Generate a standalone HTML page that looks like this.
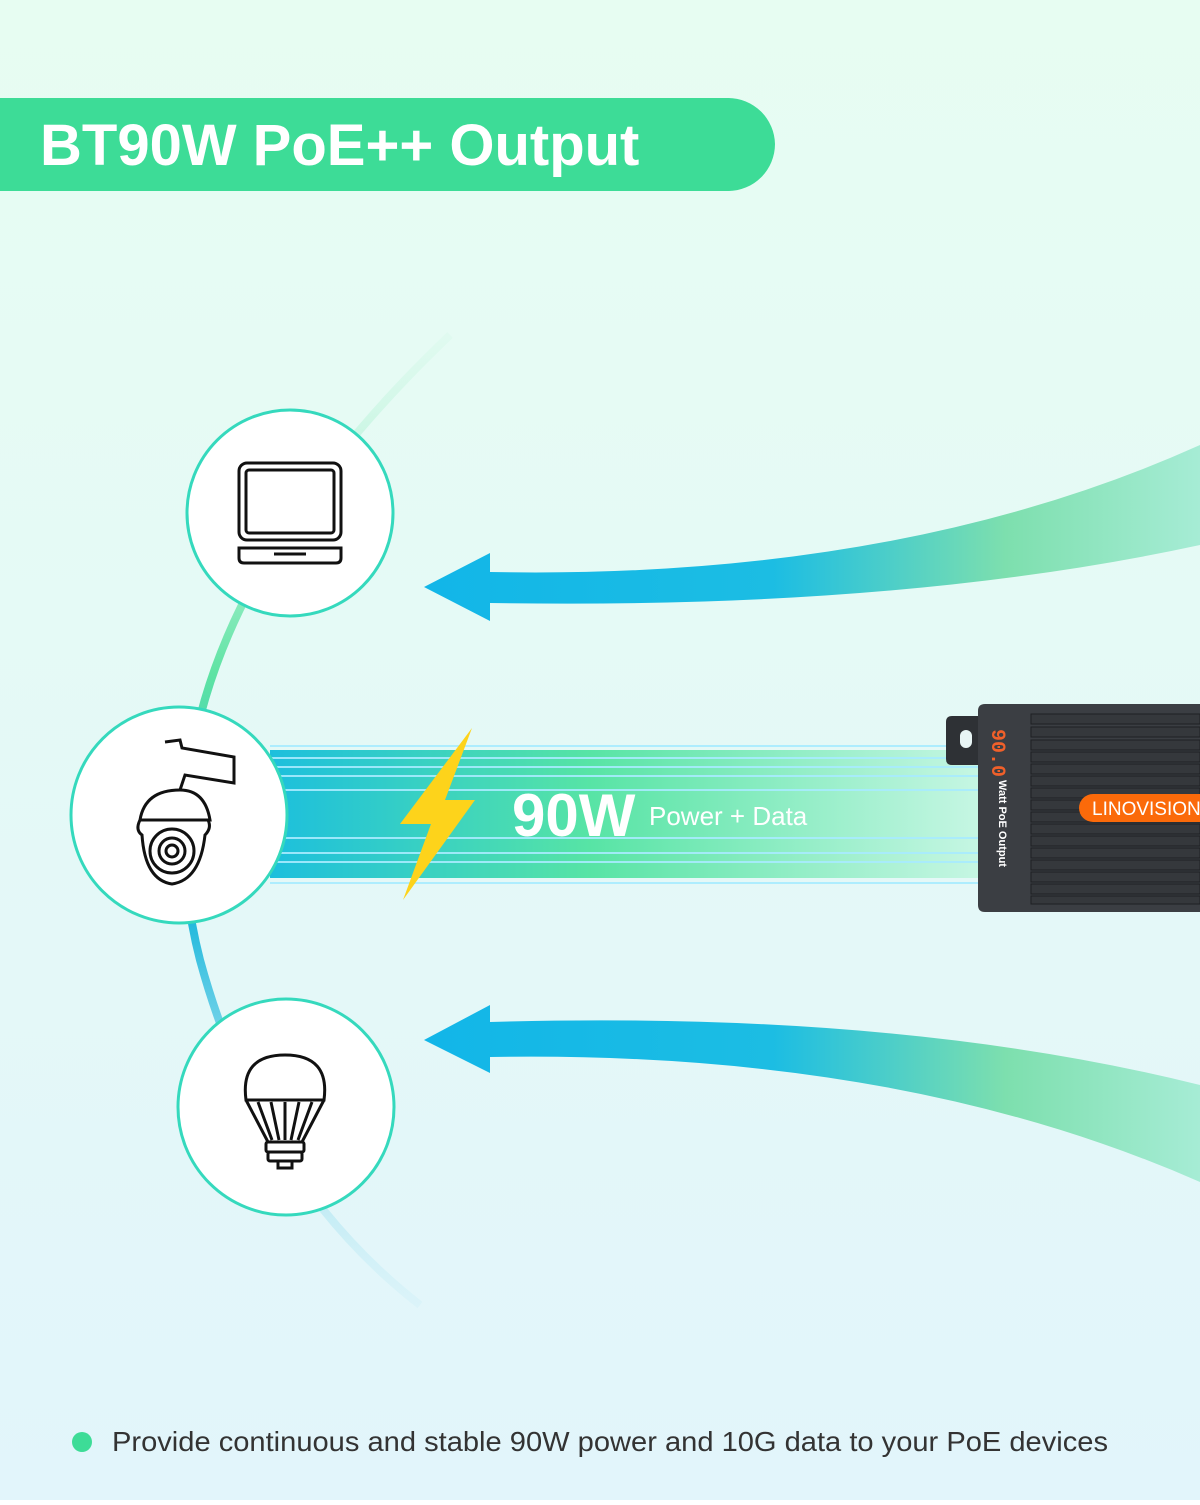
<!DOCTYPE html>
<html><head><meta charset="utf-8"><style>
body{margin:0;width:1200px;height:1500px;overflow:hidden;font-family:"Liberation Sans",sans-serif}
</style></head><body>
<svg width="1200" height="1500" viewBox="0 0 1200 1500" xmlns="http://www.w3.org/2000/svg">
<defs>
<linearGradient id="bg" x1="0" y1="0" x2="0" y2="1"><stop offset="0" stop-color="#e7fdf2"/><stop offset="1" stop-color="#e2f5fb"/></linearGradient>
<linearGradient id="arc" x1="0" y1="0" x2="0" y2="1"><stop offset="0" stop-color="#c9f6e0" stop-opacity="0.2"/><stop offset="0.35" stop-color="#5ee3a3"/><stop offset="0.6" stop-color="#1fb8dc"/><stop offset="1" stop-color="#bde9f5" stop-opacity="0.2"/></linearGradient>
<linearGradient id="arrow" x1="0" y1="0" x2="1" y2="0"><stop offset="0" stop-color="#12b6e8"/><stop offset="0.45" stop-color="#1cbde3"/><stop offset="0.75" stop-color="#7ddfae"/><stop offset="1" stop-color="#a6ecd5"/></linearGradient>
<linearGradient id="beam" x1="0" y1="0" x2="1" y2="0"><stop offset="0" stop-color="#1cbfdd"/><stop offset="0.45" stop-color="#57e4a5"/><stop offset="1" stop-color="#c6f6e3"/></linearGradient>
</defs>
<rect width="1200" height="1500" fill="url(#bg)"/>
<path d="M0 98 H728 A47 47 0 0 1 728 191 H0 Z" fill="#3ddc97" transform="translate(0,0)"/>
<path d="M0 98 H728 A47 47 0 0 1 775 144 A47 47 0 0 1 728 191 H0 Z" fill="#3ddc97"/>
<text x="40" y="165" font-size="58" font-weight="bold" fill="#fff">BT90W PoE++ Output</text>
<path d="M450 335 Q120 650 200 960 Q260 1180 420 1305" fill="none" stroke="url(#arc)" stroke-width="8"/>
<path d="M424 587 L490 553 L490 572 Q900 580 1200 445 L1200 545 Q900 610 490 603 L490 621 Z" fill="url(#arrow)"/>
<path d="M424 1040 L490 1005 L490 1022 Q900 1010 1200 1085 L1200 1182 Q900 1050 490 1057 L490 1073 Z" fill="url(#arrow)"/>
<rect x="270" y="750" width="710" height="128" fill="url(#beam)"/>
<g stroke="#a8ecff" stroke-width="2" opacity="0.9">
<line x1="270" y1="746" x2="980" y2="746"/><line x1="270" y1="758" x2="980" y2="758"/><line x1="270" y1="767" x2="980" y2="767"/><line x1="270" y1="776" x2="980" y2="776"/><line x1="270" y1="790" x2="980" y2="790"/><line x1="270" y1="838" x2="980" y2="838"/><line x1="270" y1="853" x2="980" y2="853"/><line x1="270" y1="862" x2="980" y2="862"/><line x1="270" y1="883" x2="980" y2="883"/>
</g>
<polygon points="472,728 400,824 431,824 403,900 475,800 445,800" fill="#fdd31b"/>
<text x="512" y="836" font-size="60" font-weight="bold" fill="#fff">90W</text>
<text x="649" y="825" font-size="26" fill="#fff">Power + Data</text>
<path d="M946 722 Q946 716 952 716 L980 716 L980 765 L952 765 Q946 765 946 759Z" fill="#2e3135"/>
<rect x="960" y="730" width="12" height="18" rx="6" fill="#e8f5f5"/>
<path d="M985 704 H1200 V912 H985 Q978 912 978 905 V711 Q978 704 985 704Z" fill="#3b3e43"/>
<g fill="#35383c" stroke="#1e2023" stroke-width="1">
<rect x="1031" y="714" width="169" height="10"/><rect x="1031" y="727" width="169" height="10"/><rect x="1031" y="740" width="169" height="10"/><rect x="1031" y="752" width="169" height="10"/><rect x="1031" y="764" width="169" height="10"/><rect x="1031" y="776" width="169" height="10"/><rect x="1031" y="788" width="169" height="10"/><rect x="1031" y="800" width="169" height="10"/><rect x="1031" y="812" width="169" height="10"/><rect x="1031" y="824" width="169" height="10"/><rect x="1031" y="836" width="169" height="10"/><rect x="1031" y="848" width="169" height="10"/><rect x="1031" y="860" width="169" height="10"/><rect x="1031" y="872" width="169" height="10"/><rect x="1031" y="884" width="169" height="10"/><rect x="1031" y="896" width="169" height="8"/>
</g>
<text transform="translate(992,729) rotate(90)" font-size="20" font-weight="bold" fill="#f0602a" font-family="Liberation Mono,monospace">90.0</text>
<text transform="translate(999,780) rotate(90)" font-size="11" font-weight="bold" fill="#fff">Watt PoE Output</text>
<path d="M1093 794 H1200 V822 H1093 A14 14 0 0 1 1093 794Z" fill="#fb6a0a"/>
<text x="1092" y="815" font-size="19" fill="#fff">LINOVISION</text>
<g fill="#fff" stroke="#35d9bd" stroke-width="3">
<circle cx="290" cy="513" r="103"/><circle cx="179" cy="815" r="108"/><circle cx="286" cy="1107" r="108"/>
</g>
<g fill="none" stroke="#111" stroke-width="3">
<rect x="239" y="463" width="102" height="77" rx="8"/><rect x="246" y="470" width="88" height="63" rx="3"/>
<path d="M239 548 H341 V558 Q341 563 336 563 H244 Q239 563 239 558Z"/><line x1="274" y1="554" x2="306" y2="554"/>
</g>
<g fill="none" stroke="#111" stroke-width="3">
<path d="M165 742 L180 740 L182 748 L234 757 L234 783 L185 775 L180 790"/>
<path d="M180 790 Q145 790 140 820 H210 Q205 790 180 790Z"/>
<path d="M140 820 Q135 830 142 835 Q145 880 172 884 Q200 880 205 835 Q212 828 208 820"/>
<circle cx="172" cy="851" r="22"/><circle cx="172" cy="851" r="13"/><circle cx="172" cy="851" r="6"/>
</g>
<g fill="none" stroke="#111" stroke-width="3">
<path d="M246 1100 Q240 1055 285 1055 Q330 1055 324 1100 Z"/>
<path d="M246 1100 L268 1142 H302 L324 1100"/>
<path d="M258 1102 L272 1140 M271 1102 L279 1140 M285 1102 L285 1140 M299 1102 L291 1140 M312 1102 L298 1140"/>
<rect x="266" y="1142" width="38" height="10" rx="2"/><rect x="268" y="1152" width="34" height="9" rx="2"/><path d="M278 1161 V1168 H292 V1161"/>
</g>
<circle cx="82" cy="1442" r="10" fill="#3ddc97"/>
<text x="112" y="1451" font-size="28" fill="#333" textLength="996" lengthAdjust="spacingAndGlyphs">Provide continuous and stable 90W power and 10G data to your PoE devices</text>
</svg>
</body></html>
